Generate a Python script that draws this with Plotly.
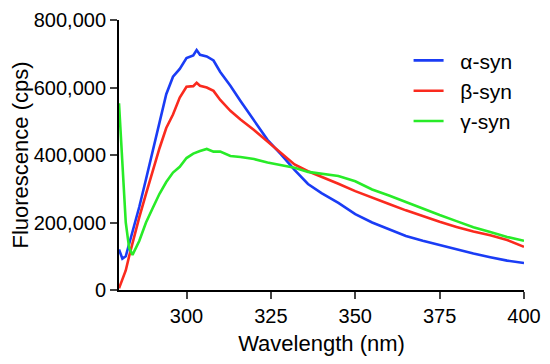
import plotly.graph_objects as go

wavelength = [280, 281, 282, 283, 284, 286, 288, 290, 292, 294, 296, 298, 300, 302, 303, 304,
              306, 308, 310, 313, 316, 320, 324, 328, 332, 336, 340, 345, 350, 355, 360, 365,
              370, 375, 380, 385, 390, 395, 400]

alpha_syn = [120000, 93000, 100000, 135000, 172000, 246000, 328000, 414000, 503000, 580000,
             632000, 655000, 687000, 695000, 711000, 697000, 692000, 680000, 646000, 605000,
             560000, 503000, 445000, 402000, 356000, 314000, 287000, 258000, 225000, 200000,
             180000, 160000, 146000, 133000, 120000, 108000, 97000, 87000, 80000]

beta_syn = [5000, 30000, 58000, 100000, 141000, 215000, 285000, 354000, 420000, 480000,
            520000, 570000, 602000, 604000, 614000, 605000, 600000, 590000, 563000, 531000,
            505000, 474000, 440000, 406000, 372000, 352000, 336000, 315000, 293000, 275000,
            255000, 236000, 218000, 202000, 187000, 173000, 162000, 148000, 128000]

gamma_syn = [553000, 380000, 200000, 125000, 104000, 145000, 200000, 243000, 285000, 320000,
             348000, 365000, 391000, 404000, 409000, 412000, 418000, 410000, 410000, 397000,
             394000, 388000, 378000, 369000, 362000, 350000, 345000, 338000, 322000, 298000,
             280000, 260000, 240000, 222000, 204000, 186000, 172000, 157000, 146000]

series_names = ["\u00a0\u00a0α-syn", "\u00a0\u00a0β-syn", "\u00a0\u00a0γ-syn"]
series_colors = ["#1a3cf5", "#fa2a1e", "#28eb28"]

x_ticks = [300, 325, 350, 375, 400]
y_ticks = [0, 200000, 400000, 600000, 800000]

font_family = "Arial, Liberation Sans, Helvetica, sans-serif"

fig = go.Figure()
for name, values, color in zip(series_names, [alpha_syn, beta_syn, gamma_syn], series_colors):
    fig.add_trace(go.Scatter(x=wavelength, y=values, mode="lines", name=name,
                             line=dict(color=color, width=2.6)))

# page body has an 8px default margin; figure sized so the whole page is 550x364
fig.update_layout(
    width=534, height=348,
    margin=dict(l=111, r=18, t=12, b=66),
    paper_bgcolor="white", plot_bgcolor="white",
    font=dict(family=font_family, color="black", size=20),
    showlegend=True,
    legend=dict(x=0.715, y=0.925, xanchor="left", yanchor="top",
                font=dict(size=21), bgcolor="rgba(0,0,0,0)", tracegroupgap=0),
)
fig.update_xaxes(
    range=[280, 400], tickvals=x_ticks, ticks="outside", ticklen=7, tickwidth=2,
    showline=True, linewidth=2, linecolor="black", showgrid=False, zeroline=False,
    title=dict(text="Wavelength (nm)", font=dict(size=22), standoff=13),
    tickfont=dict(size=20), automargin=False,
)
fig.update_yaxes(
    range=[0, 800000], tickvals=y_ticks, tickformat=",d", ticks="outside", ticklen=7, tickwidth=2,
    showline=True, linewidth=2, linecolor="black", showgrid=False, zeroline=False,
    title=dict(text="Fluorescence (cps)", font=dict(size=22), standoff=6),
    tickfont=dict(size=20), automargin=False,
)

fig.write_html("out.html")
